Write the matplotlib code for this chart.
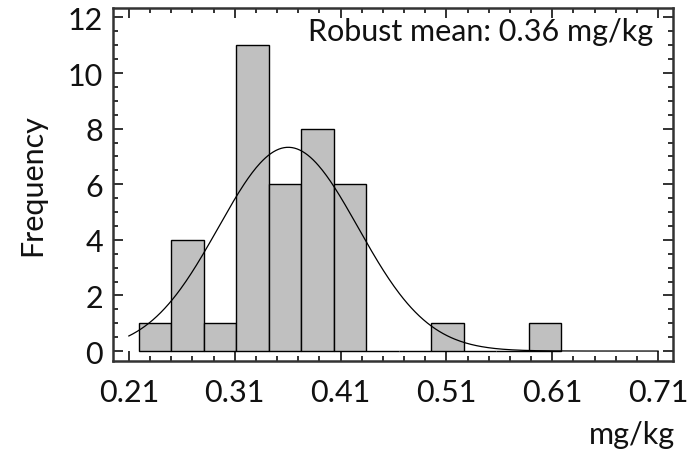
import numpy as np
import matplotlib
matplotlib.use("Agg")
import matplotlib.pyplot as plt
from matplotlib.ticker import MultipleLocator, FixedLocator

plt.rcParams['font.family'] = ['Lato', 'DejaVu Sans']

# Histogram data
bin_start = 0.2195
bin_width = 0.0307
counts = [1, 4, 1, 11, 6, 8, 6, 0, 0, 1, 0, 0, 1]

# Fitted normal curve parameters
fit_mean = 0.3606
fit_sigma = 0.066
fit_peak = 7.33
fit_range = (0.21, 0.71)

xtick_vals = [0.21, 0.31, 0.41, 0.51, 0.61, 0.71]
xtick_labels = ["0.21", "0.31", "0.41", "0.51", "0.61", "0.71"]
ytick_vals = [0, 2, 4, 6, 8, 10, 12]

FS = 22

fig = plt.figure(figsize=(6.88, 4.52), dpi=100)
ax = fig.add_axes([0.1642, 0.199, 0.978 - 0.1642, 0.980 - 0.199])

lefts = bin_start + bin_width * np.arange(len(counts))
ax.bar(lefts, counts, width=bin_width, align='edge', color='#c0c0c0',
       edgecolor='black', linewidth=1.0, zorder=2)

xs = np.linspace(fit_range[0], fit_range[1], 400)
ys = fit_peak * np.exp(-0.5 * ((xs - fit_mean) / fit_sigma) ** 2)
ax.plot(xs, ys, color='black', linewidth=0.9, zorder=3)

ax.set_xlim(0.195, 0.724)
ax.set_ylim(-0.36, 12.34)

ax.xaxis.set_major_locator(FixedLocator(xtick_vals))
ax.set_xticklabels(xtick_labels)
ax.xaxis.set_minor_locator(FixedLocator(np.round(np.arange(0.21, 0.7101, 0.02), 4)))
ax.yaxis.set_major_locator(FixedLocator(ytick_vals))
ax.yaxis.set_minor_locator(MultipleLocator(0.5))

ax.tick_params(which='both', direction='in', top=True, right=True,
               color='#222222', width=1.3)
ax.tick_params(which='major', length=7)
ax.tick_params(which='minor', length=3.5)
ax.tick_params(axis='x', which='major', labelsize=FS, pad=12, labelcolor='#111111')
ax.tick_params(axis='y', which='major', labelsize=FS, pad=7, labelcolor='#111111')

for s in ax.spines.values():
    s.set_linewidth(1.8)
    s.set_color('#333333')

ax.set_ylabel("Frequency", fontsize=FS, labelpad=16, color='#111111')
fig.text(0.981, 0.037, "mg/kg", fontsize=FS, ha='right', va='center', color='#111111')
ax.text(0.964, 0.935, "Robust mean: 0.36 mg/kg", transform=ax.transAxes,
        fontsize=FS, ha='right', va='center', color='#111111')

fig.savefig("out.png", dpi=100)
